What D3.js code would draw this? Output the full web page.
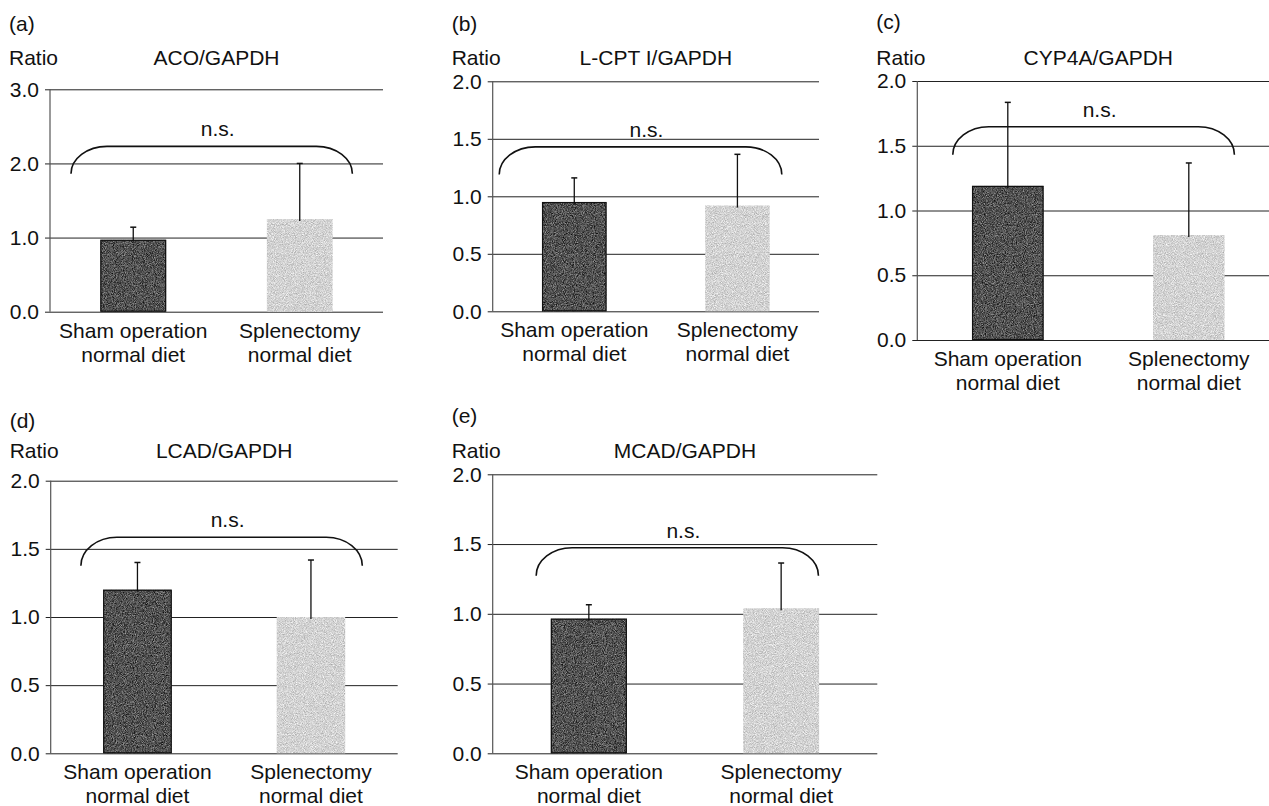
<!DOCTYPE html>
<html>
<head>
<meta charset="utf-8">
<script src="https://cdn.jsdelivr.net/npm/d3@7"></script>
<style>
  body { margin: 0; background: #fff; }
  svg { display: block; }
  text { font-family: "Liberation Sans", Arial, Helvetica, sans-serif; font-size: 21px; fill: #111; }
</style>
</head>
<body>
<div id="chart"></div>
<script>
// ---- data ----
const panelLetters = ["(a)", "(b)", "(c)", "(d)", "(e)"];
const titles = ["ACO/GAPDH", "L-CPT I/GAPDH", "CYP4A/GAPDH", "LCAD/GAPDH", "MCAD/GAPDH"];
const groups = ["Sham operation\nnormal diet", "Splenectomy\nnormal diet"];
const yMax = [3.0, 2.0, 2.0, 2.0, 2.0];
const yTicks = [[0, 1, 2, 3], [0, 0.5, 1, 1.5, 2], [0, 0.5, 1, 1.5, 2], [0, 0.5, 1, 1.5, 2], [0, 0.5, 1, 1.5, 2]];
const shamMean = [0.97, 0.95, 1.19, 1.20, 0.965];
const shamErr = [1.14, 1.16, 1.835, 1.40, 1.065];   // top of error bar
const splenMean = [1.25, 0.92, 0.81, 1.00, 1.04];
const splenErr = [2.00, 1.365, 1.367, 1.418, 1.364];
// significance bracket: [bottom, top] in ratio units
const bracketY = [[1.86, 2.23], [1.19, 1.43], [1.43, 1.647], [1.376, 1.585], [1.273, 1.474]];
const sigLabel = "n.s.";

// ---- layout (pixels) ----
const layout = [
  { x0: 50,    x1: 383,    y0: 311.7, yTop: 89.3,  letterY: 31,  ratioY: 65,  bx: [0.063, 0.908] },
  { x0: 492.7, x1: 819,    y0: 311.3, yTop: 81.3,  letterY: 31,  ratioY: 65,  bx: [0.02, 0.886] },
  { x0: 917.3, x1: 1279.3, y0: 340,   yTop: 81,    letterY: 29,  ratioY: 65,  bx: [0.098, 0.876] },
  { x0: 50.7,  x1: 397.7,  y0: 753.3, yTop: 480.7, letterY: 428, ratioY: 458, bx: [0.087, 0.898] },
  { x0: 492.7, x1: 877.3,  y0: 753.3, yTop: 474.3, letterY: 423, ratioY: 458, bx: [0.113, 0.847] }
];

const width = 1269, height = 806;
const svg = d3.select("#chart").append("svg")
  .attr("width", width).attr("height", height);

// grainy fills, like the printed halftone
const defs = svg.append("defs");
function grain(id, gain, offset, seed) {
  const f = defs.append("filter").attr("id", id)
    .attr("color-interpolation-filters", "sRGB")
    .attr("x", 0).attr("y", 0).attr("width", 1).attr("height", 1);
  f.append("feTurbulence").attr("type", "fractalNoise")
    .attr("baseFrequency", 1.1).attr("numOctaves", 2).attr("seed", seed).attr("result", "n");
  f.append("feColorMatrix").attr("in", "n").attr("type", "matrix")
    .attr("values", `${gain} 0 0 0 ${offset}  ${gain} 0 0 0 ${offset}  ${gain} 0 0 0 ${offset}  0 0 0 0 1`)
    .attr("result", "g");
  f.append("feComposite").attr("in", "g").attr("in2", "SourceGraphic").attr("operator", "in");
}
grain("grainDark", 0.8, -0.08, 3);
grain("grainLight", 0.45, 0.60, 7);

layout.forEach((L, i) => {
  const g = svg.append("g");
  const W = L.x1 - L.x0;

  const x = d3.scaleBand().domain(groups).range([L.x0, L.x1])
    .paddingInner(0.605).paddingOuter(0.3025);
  const y = d3.scaleLinear().domain([0, yMax[i]]).range([L.y0, L.yTop]);

  // gridlines + tick labels
  const axis = d3.axisLeft(y).tickValues(yTicks[i])
    .tickFormat(d3.format(".1f"))
    .tickSize(-(W + 5)).tickPadding(6);
  const ag = g.append("g").attr("transform", `translate(${L.x0 - 5},0)`).call(axis);
  ag.select(".domain").remove();
  ag.selectAll(".tick line").attr("stroke", "#222").attr("stroke-width", 1);
  ag.selectAll(".tick text").attr("fill", null);
  ag.attr("font-size", null).attr("font-family", null);

  // vertical axis
  g.append("line")
    .attr("x1", L.x0).attr("x2", L.x0)
    .attr("y1", y(yMax[i])).attr("y2", y(0))
    .attr("stroke", "#555").attr("stroke-width", 1.2);

  // bars
  const bars = [
    { key: groups[0], v: shamMean[i], e: shamErr[i], cls: "dark" },
    { key: groups[1], v: splenMean[i], e: splenErr[i], cls: "light" }
  ];
  g.selectAll("rect.bar").data(bars).enter().append("rect")
    .attr("class", "bar")
    .attr("x", d => x(d.key))
    .attr("y", d => y(d.v))
    .attr("width", x.bandwidth())
    .attr("height", d => y(0) - y(d.v))
    .attr("fill", d => d.cls === "dark" ? "#444" : "#ccc")
    .attr("filter", d => d.cls === "dark" ? "url(#grainDark)" : "url(#grainLight)");
  g.selectAll("rect.edge").data(bars.filter(d => d.cls === "dark")).enter().append("rect")
    .attr("class", "edge")
    .attr("x", d => x(d.key) + 0.5)
    .attr("y", d => y(d.v) + 0.5)
    .attr("width", x.bandwidth() - 1)
    .attr("height", d => y(0) - y(d.v) - 1)
    .attr("fill", "none").attr("stroke", "#111").attr("stroke-width", 1.2);

  // error bars (upper only)
  const cx = d => x(d.key) + x.bandwidth() / 2;
  g.selectAll("line.err").data(bars).enter().append("line")
    .attr("class", "err")
    .attr("x1", cx).attr("x2", cx)
    .attr("y1", d => y(d.v) + 2).attr("y2", d => y(d.e))
    .attr("stroke", "#111").attr("stroke-width", 1.3);
  g.selectAll("line.cap").data(bars).enter().append("line")
    .attr("class", "cap")
    .attr("x1", d => cx(d) - 3).attr("x2", d => cx(d) + 3)
    .attr("y1", d => y(d.e)).attr("y2", d => y(d.e))
    .attr("stroke", "#111").attr("stroke-width", 1.5);

  // bracket with rounded ends
  const bl = L.x0 + L.bx[0] * W, br = L.x0 + L.bx[1] * W;
  const yb = y(bracketY[i][0]), yt = y(bracketY[i][1]);
  const rx = 36, ry = yb - yt;
  const path = d3.path();
  path.moveTo(bl, yb);
  path.bezierCurveTo(bl, yb - ry * 0.55, bl + rx * 0.45, yt, bl + rx, yt);
  path.lineTo(br - rx, yt);
  path.bezierCurveTo(br - rx * 0.45, yt, br, yb - ry * 0.55, br, yb);
  g.append("path").attr("d", path.toString())
    .attr("fill", "none").attr("stroke", "#111").attr("stroke-width", 1.6);
  g.append("text")
    .attr("x", (bl + br) / 2 + 6).attr("y", yt - 10)
    .attr("text-anchor", "middle").text(sigLabel);

  // labels
  g.append("text").attr("x", L.x0 - 41).attr("y", L.letterY).text(panelLetters[i]);
  g.append("text").attr("x", L.x0 - 41).attr("y", L.ratioY).text("Ratio");
  g.append("text").attr("x", L.x0 + W / 2).attr("y", L.ratioY)
    .attr("text-anchor", "middle").text(titles[i]);

  // category labels
  groups.forEach(name => {
    const t = g.append("text").attr("text-anchor", "middle")
      .attr("x", x(name) + x.bandwidth() / 2).attr("y", L.y0 + 26);
    name.split("\n").forEach((line, k) => {
      t.append("tspan").attr("x", x(name) + x.bandwidth() / 2)
        .attr("dy", k === 0 ? 0 : 24).text(line);
    });
  });
});
</script>
</body>
</html>
